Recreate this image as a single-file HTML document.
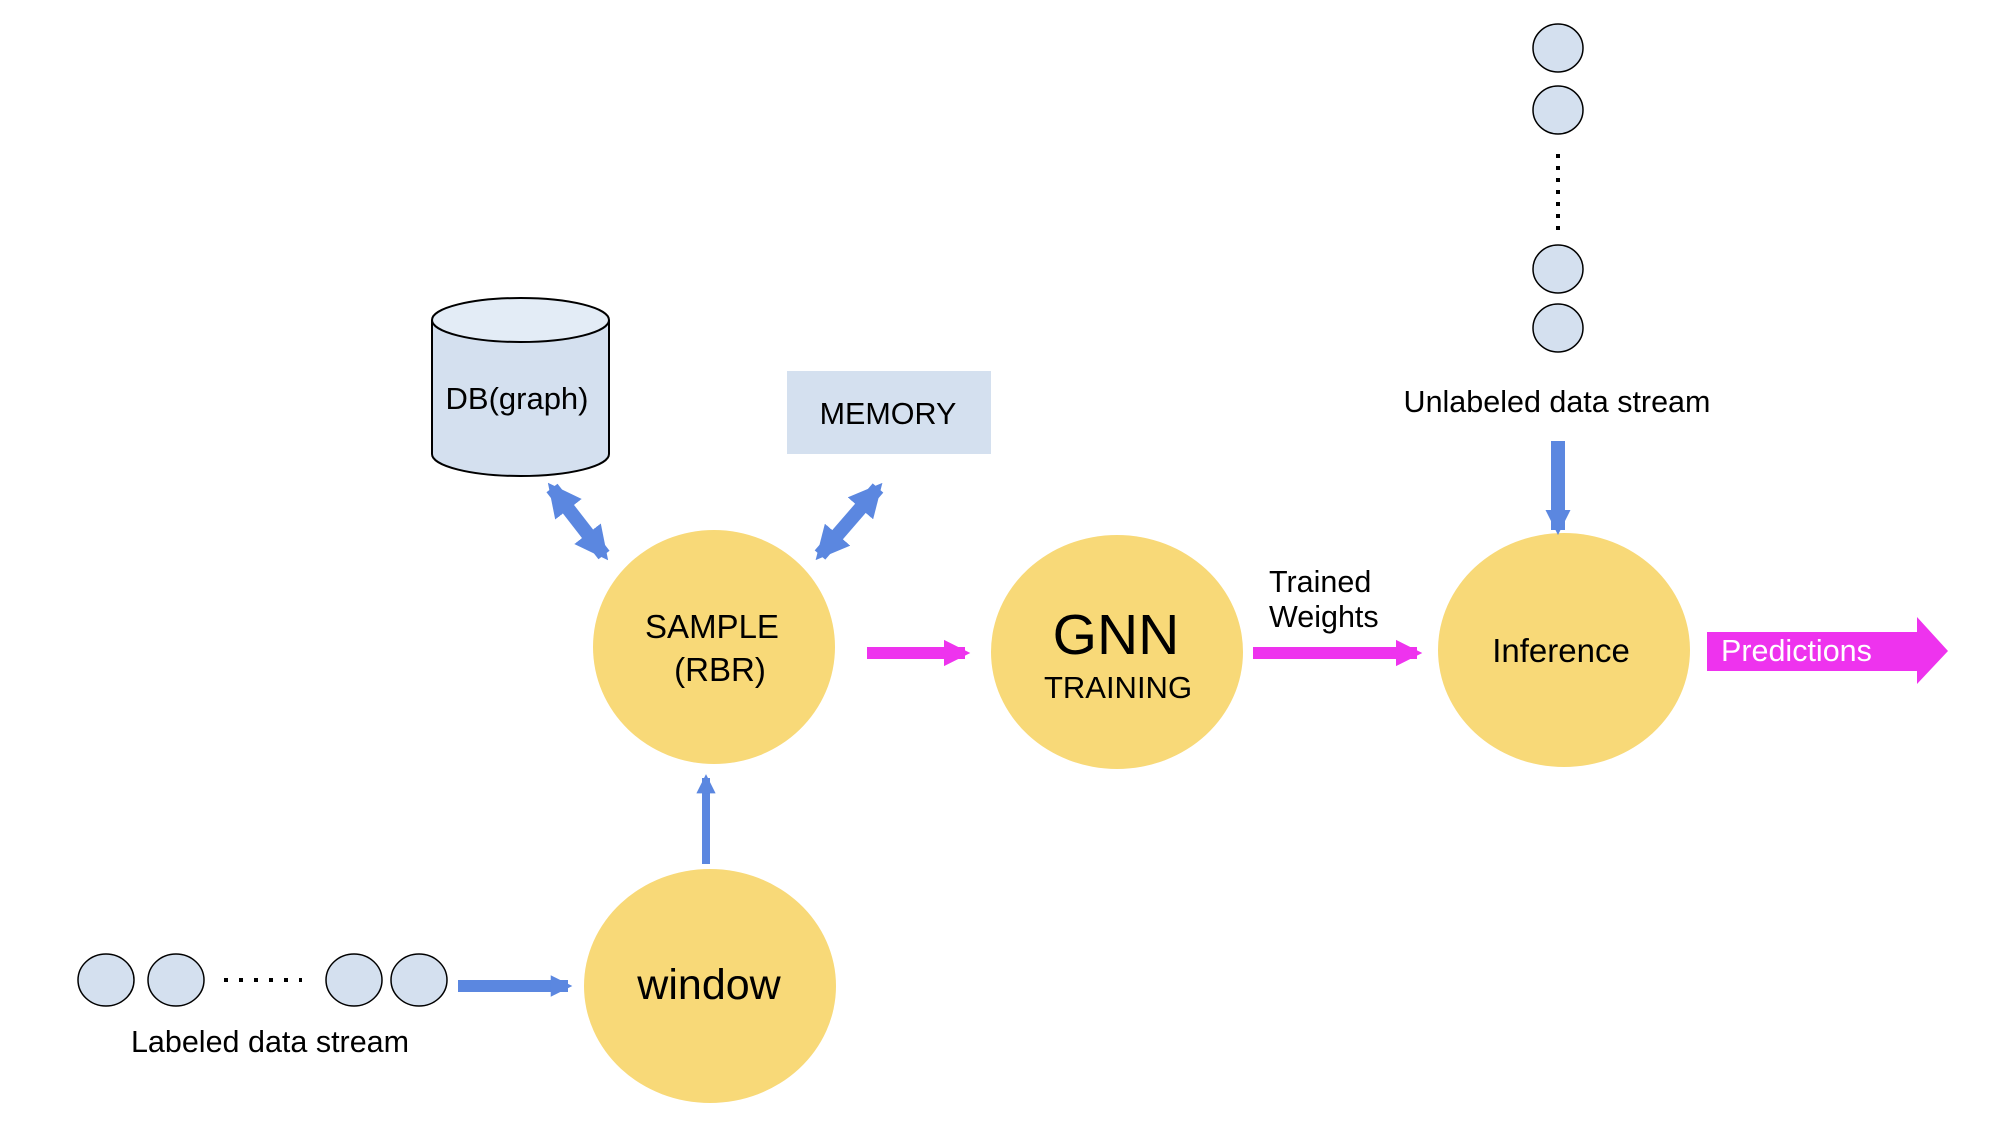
<!DOCTYPE html>
<html><head><meta charset="utf-8"><style>
html,body{margin:0;padding:0;background:#fff;}
svg{display:block;font-family:"Liberation Sans",Arial,sans-serif;}
</style></head><body>
<svg width="1990" height="1130" viewBox="0 0 1990 1130" xmlns="http://www.w3.org/2000/svg">
<defs>
<marker id="bh" viewBox="0 0 10 10" refX="8" refY="5" markerWidth="2.4" markerHeight="2.4" orient="auto-start-reverse"><path d="M0,0 L10,5 L0,10 z" fill="#5B87E0"/></marker>
<marker id="bs" viewBox="0 0 10 10" refX="8" refY="5" markerWidth="1.8" markerHeight="1.8" orient="auto"><path d="M0,0 L10,5 L0,10 z" fill="#5B87E0"/></marker>
<marker id="mh" viewBox="0 0 10 10" refX="8" refY="5" markerWidth="2.2" markerHeight="2.4" orient="auto"><path d="M0,0 L10,5 L0,10 z" fill="#EE33EE"/></marker>
</defs>
<rect width="1990" height="1130" fill="#fff"/>
<path d="M432,320 L432,454 A88.5,22 0 0 0 609,454 L609,320" fill="#D4E0EF" stroke="#000" stroke-width="2"/>
<ellipse cx="520.5" cy="320" rx="88.5" ry="22" fill="#E3ECF6" stroke="#000" stroke-width="2"/>
<text x="517" y="409" font-size="31" text-anchor="middle">DB(graph)</text>
<rect x="787" y="371" width="204" height="83" fill="#D4E0EF"/>
<text x="888" y="424" font-size="30.5" text-anchor="middle">MEMORY</text>
<ellipse cx="714" cy="647" rx="121" ry="117" fill="#F8D978"/>
<text x="712" y="638" font-size="33" text-anchor="middle">SAMPLE</text>
<text x="720" y="681" font-size="33" text-anchor="middle">(RBR)</text>
<ellipse cx="1117" cy="652" rx="126" ry="117" fill="#F8D978"/>
<text x="1116" y="654" font-size="57" text-anchor="middle">GNN</text>
<text x="1118" y="698" font-size="31" text-anchor="middle">TRAINING</text>
<ellipse cx="1564" cy="650" rx="126" ry="117" fill="#F8D978"/>
<text x="1561" y="662" font-size="33" text-anchor="middle">Inference</text>
<ellipse cx="710" cy="986" rx="126" ry="117" fill="#F8D978"/>
<text x="709" y="999" font-size="43" text-anchor="middle">window</text>
<line x1="552" y1="488" x2="604" y2="555" stroke="#5B87E0" stroke-width="14" marker-start="url(#bh)" marker-end="url(#bh)"/>
<line x1="878" y1="488" x2="820" y2="555" stroke="#5B87E0" stroke-width="14" marker-start="url(#bh)" marker-end="url(#bh)"/>
<line x1="706" y1="864" x2="706" y2="778" stroke="#5B87E0" stroke-width="8" marker-end="url(#bh)"/>
<line x1="458" y1="986" x2="568" y2="986" stroke="#5B87E0" stroke-width="12" marker-end="url(#bs)"/>
<line x1="1558" y1="441" x2="1558" y2="530" stroke="#5B87E0" stroke-width="14" marker-end="url(#bs)"/>
<line x1="867" y1="653" x2="965" y2="653" stroke="#EE33EE" stroke-width="12" marker-end="url(#mh)"/>
<line x1="1253" y1="653" x2="1417" y2="653" stroke="#EE33EE" stroke-width="12" marker-end="url(#mh)"/>
<path d="M1707,632 L1917,632 L1917,617 L1948,651 L1917,684 L1917,671 L1707,671 z" fill="#EE33EE"/>
<text x="1721" y="661" font-size="30.5" fill="#fff">Predictions</text>
<text x="1269" y="592" font-size="30.5">Trained</text>
<text x="1269" y="627" font-size="30.5">Weights</text>
<g fill="#D4E0EF" stroke="#000" stroke-width="1.5">
<ellipse cx="1558" cy="48" rx="25" ry="24"/>
<ellipse cx="1558" cy="110" rx="25" ry="24"/>
<ellipse cx="1558" cy="269" rx="25" ry="24"/>
<ellipse cx="1558" cy="328" rx="25" ry="24"/>
</g>
<line x1="1558" y1="154" x2="1558" y2="235" stroke="#000" stroke-width="4" stroke-dasharray="4,8"/>
<text x="1557" y="412" font-size="30.5" text-anchor="middle">Unlabeled data stream</text>
<g fill="#D4E0EF" stroke="#000" stroke-width="1.5">
<ellipse cx="106" cy="980" rx="28" ry="26"/>
<ellipse cx="176" cy="980" rx="28" ry="26"/>
<ellipse cx="354" cy="980" rx="28" ry="26"/>
<ellipse cx="419" cy="980" rx="28" ry="26"/>
</g>
<line x1="224" y1="980" x2="302" y2="980" stroke="#000" stroke-width="4" stroke-dasharray="4,11"/>
<text x="270" y="1052" font-size="30.5" text-anchor="middle">Labeled data stream</text>
</svg>
</body></html>
